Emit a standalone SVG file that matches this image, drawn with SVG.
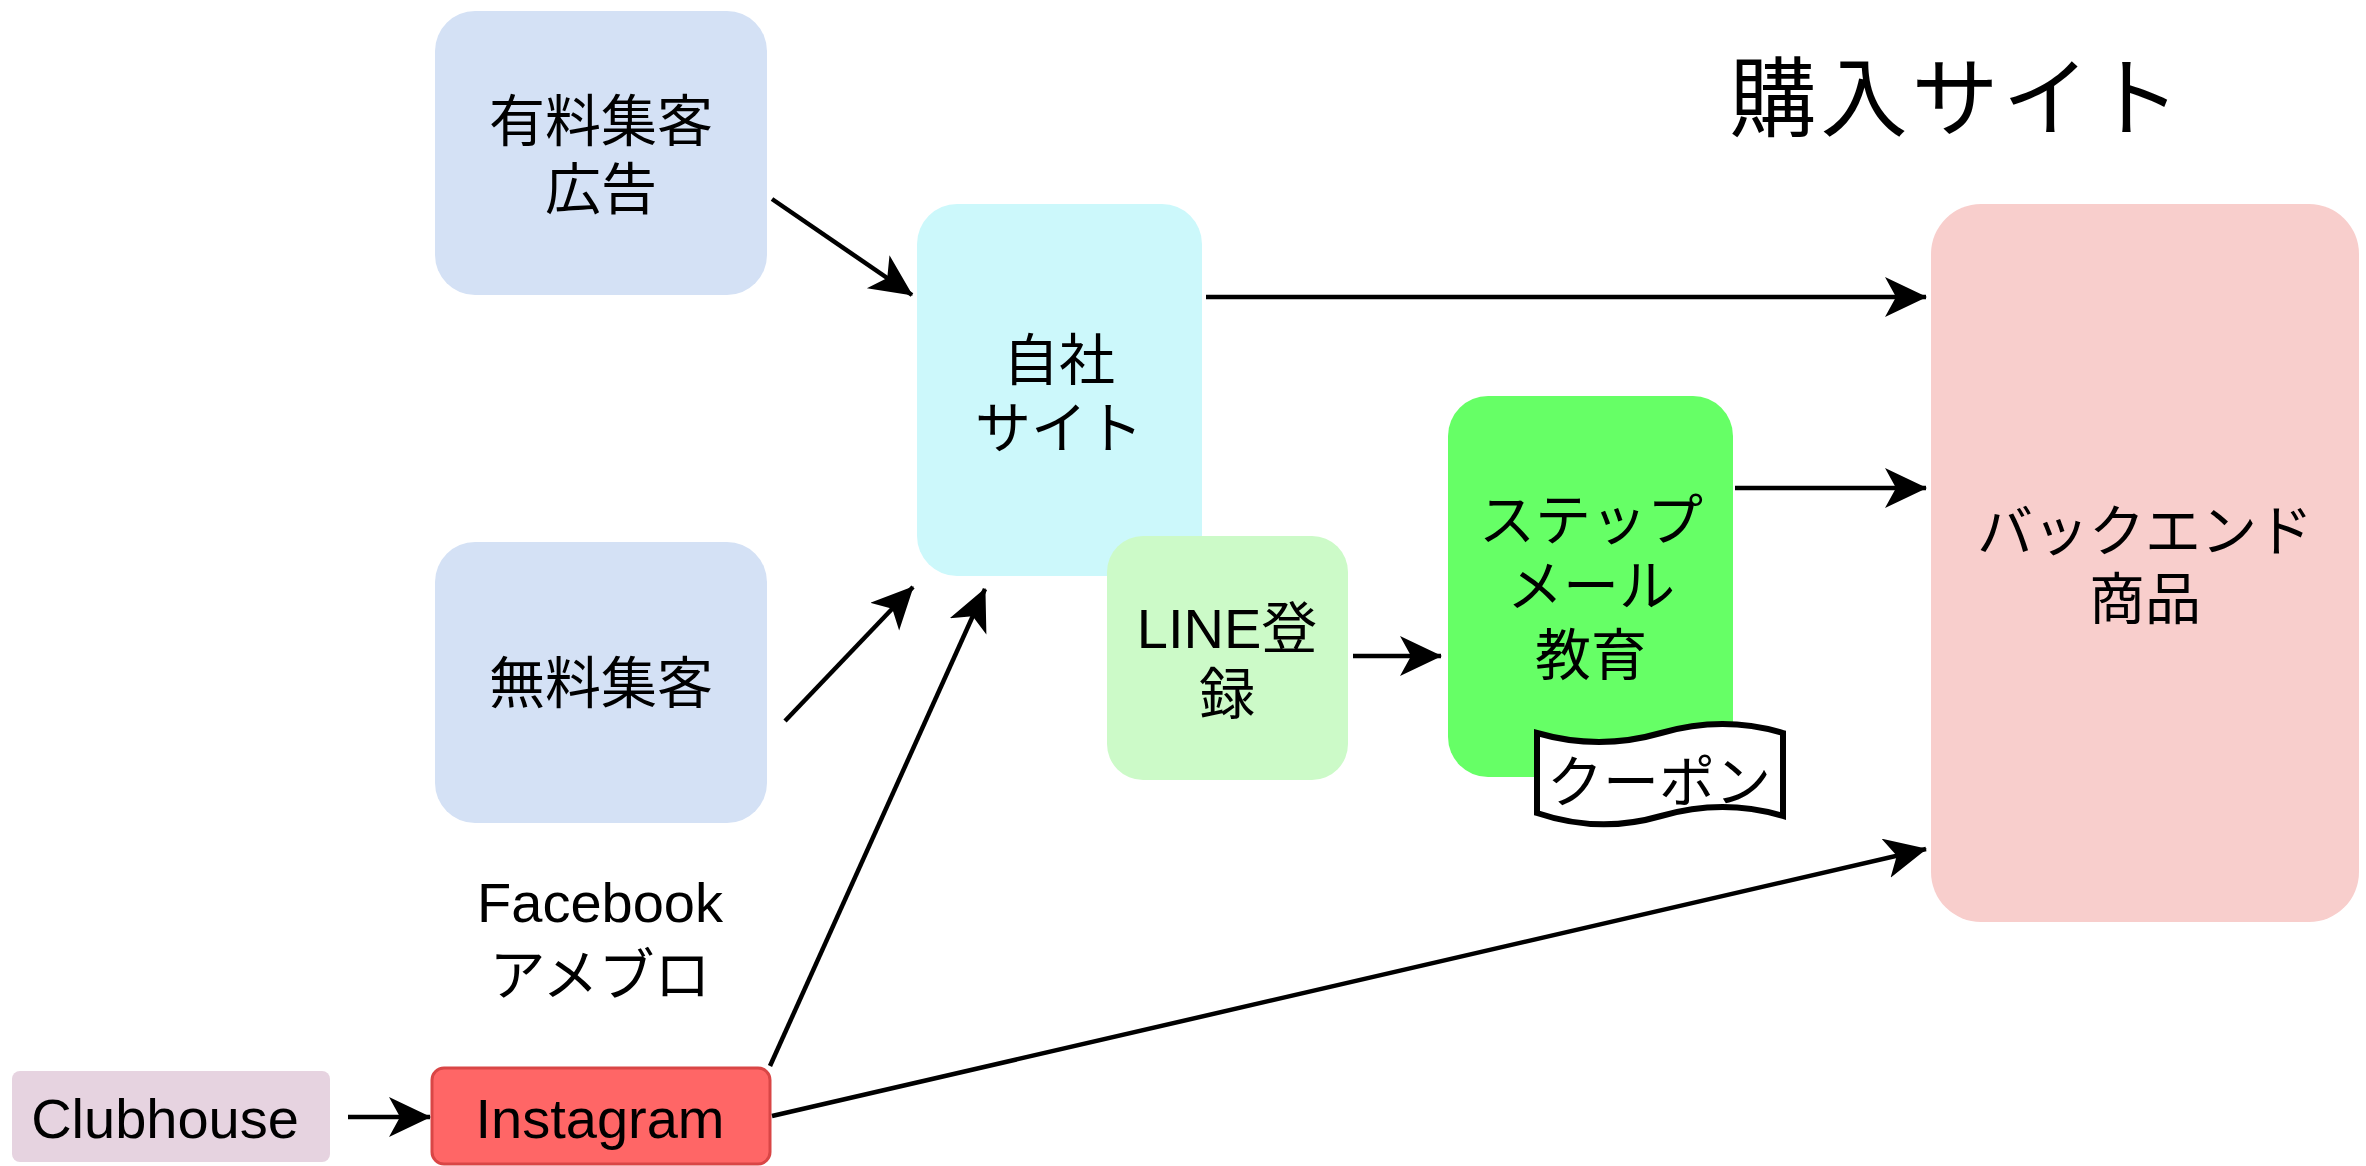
<svg xmlns="http://www.w3.org/2000/svg" width="2366" height="1166" viewBox="0 0 2366 1166">
<style>
  .lbl { font-family: "Liberation Sans", "Noto Sans CJK JP", sans-serif; font-size: 56px; fill: #000; text-anchor: middle; }
  .edge { stroke: #000; stroke-width: 4.5; fill: none; }
</style>
<defs>
  <marker id="arr" markerUnits="userSpaceOnUse" markerWidth="46" markerHeight="44" refX="41" refY="20" orient="auto">
    <path d="M0,0 L42,20 L0,40 L11,20 Z" fill="#000"/>
  </marker>
</defs>
<rect width="2366" height="1166" fill="#fff"/>

<g id="title">
  <text x="1957" y="130" font-family="Noto Sans CJK JP, sans-serif" font-size="87" letter-spacing="4" text-anchor="middle" fill="#000">購入サイト</text>
</g>

<g id="paid">
  <rect x="435" y="11" width="332" height="284" rx="40" fill="#d4e1f5"/>
  <text class="lbl"><tspan x="601" y="141">有料集客</tspan><tspan x="601" y="209">広告</tspan></text>
</g>

<g id="free">
  <rect x="435" y="542" width="332" height="281" rx="40" fill="#d4e1f5"/>
  <text class="lbl" x="601" y="703">無料集客</text>
</g>

<g id="sns">
  <text class="lbl"><tspan x="600" y="922">Facebook</tspan><tspan x="600" y="995">アメブロ</tspan></text>
</g>

<g id="own-site">
  <rect x="917" y="204" width="285" height="372" rx="40" fill="#ccf8fb"/>
  <text class="lbl"><tspan x="1059" y="380">自社</tspan><tspan x="1059" y="448">サイト</tspan></text>
</g>

<g id="line">
  <rect x="1107" y="536" width="241" height="244" rx="36" fill="#ccfac8"/>
  <text class="lbl"><tspan x="1227" y="648">LINE登</tspan><tspan x="1227" y="714">録</tspan></text>
</g>

<g id="step">
  <rect x="1448" y="396" width="285" height="381" rx="40" fill="#66ff66"/>
  <text class="lbl"><tspan x="1591" y="540">ステップ</tspan><tspan x="1591" y="606">メール</tspan><tspan x="1591" y="675">教育</tspan></text>
</g>

<g id="coupon">
  <path d="M1537,733 Q1599,751 1661,733 Q1723,715 1783,733 L1783,816 Q1723,798 1661,816 Q1599,834 1537,813 Z" fill="#fff" stroke="#000" stroke-width="6"/>
  <text class="lbl" x="1659" y="802" font-size="46">クーポン</text>
</g>

<g id="backend">
  <rect x="1931" y="204" width="428" height="718" rx="50" fill="#f8cecc"/>
  <text class="lbl"><tspan x="2145" y="551">バックエンド</tspan><tspan x="2145" y="619">商品</tspan></text>
</g>

<g id="clubhouse">
  <rect x="12" y="1071" width="318" height="91" rx="8" fill="#e6d3e0"/>
  <text class="lbl" x="165" y="1138">Clubhouse</text>
</g>

<g id="instagram">
  <rect x="432" y="1068" width="338" height="96" rx="12" fill="#ff6666" stroke="#d94646" stroke-width="3"/>
  <text class="lbl" x="600" y="1138">Instagram</text>
</g>

<g id="connectors">
  <line class="edge" x1="772" y1="199" x2="912" y2="295" marker-end="url(#arr)"/>
  <line class="edge" x1="1206" y1="297" x2="1926" y2="297" marker-end="url(#arr)"/>
  <line class="edge" x1="1735" y1="488" x2="1926" y2="488" marker-end="url(#arr)"/>
  <line class="edge" x1="785" y1="721" x2="913" y2="587" marker-end="url(#arr)"/>
  <line class="edge" x1="770" y1="1066" x2="985" y2="589" marker-end="url(#arr)"/>
  <line class="edge" x1="772" y1="1116" x2="1926" y2="849" marker-end="url(#arr)"/>
  <line class="edge" x1="1353" y1="656" x2="1441" y2="656" marker-end="url(#arr)"/>
  <line class="edge" x1="348" y1="1117" x2="430" y2="1117" marker-end="url(#arr)"/>
</g>
</svg>
